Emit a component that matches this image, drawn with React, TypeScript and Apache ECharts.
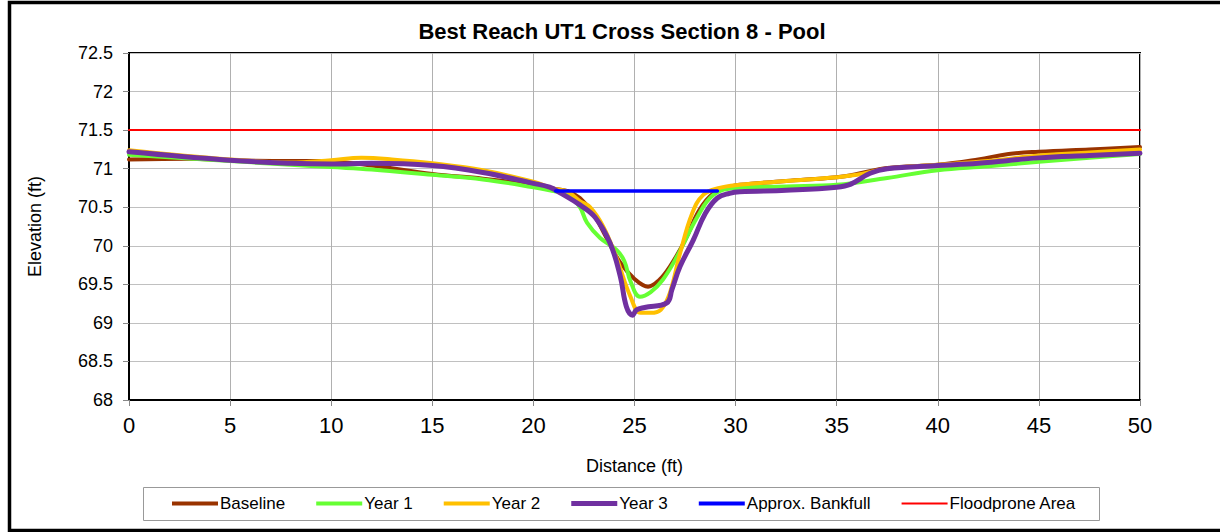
import React, { useEffect, useRef } from "react";
import * as echarts from "echarts";

const baselineX = [0, 3, 5, 8, 9.5, 12, 15, 17.5, 20, 21, 21.7, 22.3, 22.95, 23.6, 24.3, 25.0, 25.67, 26.2, 26.75, 27.5, 28.2, 28.9, 29.7, 30.2, 32.5, 35, 36, 37.5, 40, 42, 43.5, 45, 47.5, 50];
const baselineY = [71.12, 71.13, 71.11, 71.1, 71.1, 71.04, 70.93, 70.87, 70.79, 70.74, 70.71, 70.62, 70.42, 70.11, 69.78, 69.57, 69.47, 69.55, 69.73, 70.07, 70.46, 70.68, 70.76, 70.79, 70.84, 70.89, 70.93, 71.01, 71.05, 71.12, 71.19, 71.22, 71.25, 71.28];

const year1X = [0, 5, 8, 10, 12, 15, 17.5, 20, 21, 21.7, 22.3, 22.65, 23.3, 24.1, 24.5, 24.8, 25.27, 25.8, 26.4, 27.1, 28.1, 28.9, 30, 32.5, 35, 37.5, 40, 42.5, 45, 47.5, 50];
const year1Y = [71.18, 71.1, 71.05, 71.02, 70.99, 70.92, 70.86, 70.76, 70.71, 70.67, 70.5, 70.3, 70.1, 69.95, 69.8, 69.54, 69.34, 69.4, 69.56, 69.86, 70.37, 70.66, 70.75, 70.77, 70.79, 70.88, 70.98, 71.03, 71.09, 71.14, 71.19];

const year2X = [0, 5, 8, 10, 11.5, 13, 15, 17.5, 20, 21, 21.7, 22.3, 22.8, 23.45, 24.1, 24.8, 25.3, 25.8, 26.3, 26.75, 27.25, 27.85, 28.4, 29.2, 30.2, 32.5, 35, 36, 37.5, 40, 42.5, 45, 47.5, 50];
const year2Y = [71.24, 71.12, 71.08, 71.11, 71.14, 71.12, 71.07, 70.98, 70.83, 70.74, 70.7, 70.58, 70.5, 70.25, 69.85, 69.34, 69.13, 69.13, 69.17, 69.39, 69.9, 70.42, 70.66, 70.75, 70.79, 70.84, 70.89, 70.92, 71.0, 71.05, 71.1, 71.17, 71.21, 71.25];

const year3X = [0, 5, 8, 10, 12, 15, 17.5, 20, 20.8, 21.3, 22.3, 23.05, 23.8, 24.3, 24.6, 24.9, 25.1, 25.5, 26.6, 26.85, 27.25, 27.9, 28.5, 29.1, 29.7, 30.2, 32.5, 35, 35.7, 36.65, 37.5, 40, 42, 45, 47.5, 50];
const year3Y = [71.22, 71.11, 71.07, 71.06, 71.07, 71.04, 70.95, 70.81, 70.76, 70.69, 70.53, 70.37, 70.03, 69.6, 69.21, 69.1, 69.17, 69.2, 69.26, 69.43, 69.73, 70.07, 70.42, 70.62, 70.68, 70.7, 70.72, 70.76, 70.8, 70.94, 71.0, 71.04, 71.07, 71.14, 71.17, 71.2];

const bankfullX = [21.1, 29.1];
const bankfullY = [70.71, 70.71];

const floodproneX = [0, 50];
const floodproneY = [71.5, 71.5];

const seriesNames = ["Baseline", "Year 1", "Year 2", "Year 3", "Approx. Bankfull", "Floodprone Area"];
const seriesColors = ["#993300", "#66FF33", "#FFC000", "#7030A0", "#0000FF", "#FF0000"];
const seriesWidths = [4, 4, 4, 5, 3.5, 2];
const legendIconHeights = [4, 4, 4, 5, 4, 2];

const zip = (xs: number[], ys: number[]) => xs.map((x, i) => [x, ys[i]]);

export default function App() {
  const ref = useRef<HTMLDivElement>(null);
  useEffect(() => {
    if (!ref.current) return;
    const chart = echarts.init(ref.current, null, { renderer: "svg" });
    const datas = [
      zip(baselineX, baselineY),
      zip(year1X, year1Y),
      zip(year2X, year2Y),
      zip(year3X, year3Y),
      zip(bankfullX, bankfullY),
      zip(floodproneX, floodproneY),
    ];
    const font = "'Liberation Sans', Arial, sans-serif";
    chart.setOption({
      animation: false,
      backgroundColor: "#ffffff",
      textStyle: { fontFamily: font },
      title: {
        text: "Best Reach UT1 Cross Section 8 - Pool",
        left: 622,
        textAlign: "center",
        top: 20,
        padding: 0,
        textStyle: { fontFamily: font, fontSize: 22, fontWeight: "bold", color: "#000" },
      },
      graphic: [
        {
          type: "rect",
          shape: { x: 9.5, y: 2.5, width: 1240, height: 528 },
          style: { fill: "none", stroke: "#000", lineWidth: 3.5 },
          silent: true,
        },
        {
          type: "rect",
          shape: { x: 143.5, y: 487.5, width: 956, height: 33 },
          style: { fill: "#fff", stroke: "#999", lineWidth: 1 },
          silent: true,
          z: -1,
        },
      ],
      legend: {
        left: 172,
        top: 495,
        padding: 0,
        itemWidth: 46,
        itemHeight: 14,
        itemGap: 31,
        textStyle: { fontFamily: font, fontSize: 17, color: "#000", padding: [0, 0, 0, -3] },
        data: seriesNames.map((n, i) => ({
          name: n,
          icon: `path://M0,0H46V${legendIconHeights[i]}H0Z`,
        })),
      },
      grid: {
        left: 129,
        top: 53,
        right: 80,
        bottom: 132,
        show: true,
        borderColor: "#000",
        borderWidth: 2,
      },
      xAxis: {
        type: "value",
        min: 0,
        max: 50,
        interval: 5,
        name: "Distance (ft)",
        nameLocation: "middle",
        nameGap: 57,
        nameTextStyle: { fontFamily: font, fontSize: 18, color: "#000" },
        axisLine: { show: true, onZero: false, lineStyle: { color: "#000", width: 2 } },
        axisTick: { show: true, length: 6, lineStyle: { color: "#888" } },
        axisLabel: { fontFamily: font, fontSize: 22, color: "#000", margin: 14 },
        splitLine: { show: true, lineStyle: { color: "#b0b0b0", width: 1 } },
      },
      yAxis: {
        type: "value",
        min: 68,
        max: 72.5,
        interval: 0.5,
        name: "Elevation (ft)",
        nameLocation: "middle",
        nameGap: 85,
        nameRotate: 90,
        nameTextStyle: { fontFamily: font, fontSize: 18, color: "#000" },
        axisLine: { show: true, onZero: false, lineStyle: { color: "#000", width: 2 } },
        axisTick: { show: true, length: 6, lineStyle: { color: "#888" } },
        axisLabel: { fontFamily: font, fontSize: 18, color: "#000", margin: 16, formatter: (v: number) => String(v) },
        splitLine: { show: true, lineStyle: { color: "#c0c0c0", width: 1 } },
      },
      series: seriesNames.map((n, i) => ({
        name: n,
        type: "line",
        data: datas[i],
        smooth: i < 4 ? 0.4 : false,
        symbol: "none",
        showSymbol: false,
        lineStyle: { color: seriesColors[i], width: seriesWidths[i], cap: "round", join: "round" },
        itemStyle: { color: seriesColors[i] },
        z: 2 + i,
      })),
    });
    return () => chart.dispose();
  }, []);
  return <div ref={ref} style={{ position: "absolute", left: 0, top: 0, width: 1220, height: 532 }} />;
}
